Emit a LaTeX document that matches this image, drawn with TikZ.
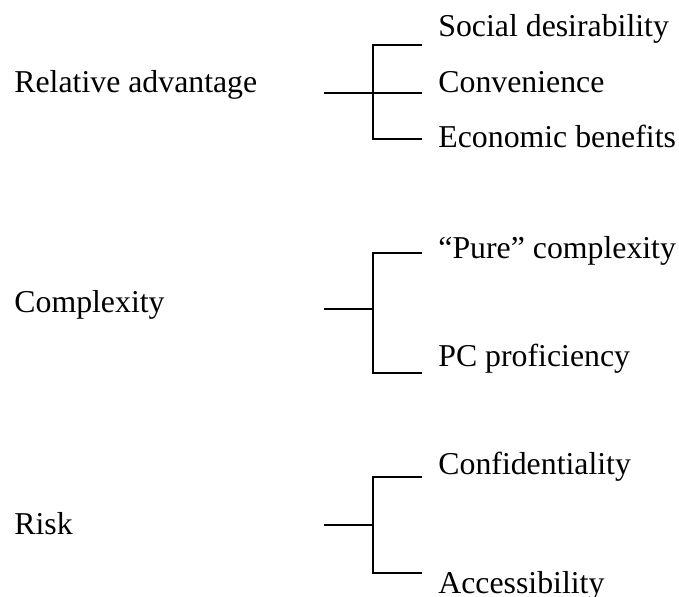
\documentclass[tikz,border=0pt]{standalone}
\usepackage{fontspec}
\setmainfont{Liberation Serif}
\begin{document}
\begin{tikzpicture}[x=0.5pt,y=-0.5pt,
  lbl/.style={anchor=base west,inner sep=0pt,font=\fontsize{15.9}{19}\selectfont},
  conn/.style={line width=1.2pt,line cap=rect}]
\useasboundingbox (0,0) rectangle (679,597);

% factor labels
\node[lbl] (rel) at (14,93) {Relative advantage};
\node[lbl] (cpx) at (14,313) {Complexity};
\node[lbl] (risk) at (14,535) {Risk};

% sub-factor labels
\node[lbl] (soc) at (438,37) {Social desirability};
\node[lbl] (conv) at (438,93) {Convenience};
\node[lbl] (econ) at (438,148) {Economic benefits};
\node[lbl] (pure) at (438,259) {``Pure'' complexity};
\node[lbl] (pc) at (438,367) {PC proficiency};
\node[lbl] (conf) at (438,475) {Confidentiality};
\node[lbl] (acc) at (438,593) {Accessibility};

% bracket points
\coordinate (s1) at (325,93);  \coordinate (j1) at (373,93);
\coordinate (t1a) at (373,45); \coordinate (e1a) at (421,45);
\coordinate (e1b) at (421,93);
\coordinate (t1c) at (373,139); \coordinate (e1c) at (421,139);

\coordinate (s2) at (325,309); \coordinate (j2) at (373,309);
\coordinate (t2a) at (373,253); \coordinate (e2a) at (421,253);
\coordinate (t2b) at (373,373); \coordinate (e2b) at (421,373);

\coordinate (s3) at (325,525); \coordinate (j3) at (373,525);
\coordinate (t3a) at (373,477); \coordinate (e3a) at (421,477);
\coordinate (t3b) at (373,573); \coordinate (e3b) at (421,573);

% brackets
\draw[conn] (s1) -- (j1) -- (e1b);
\draw[conn] (e1a) -- (t1a) -- (t1c) -- (e1c);

\draw[conn] (s2) -- (j2);
\draw[conn] (e2a) -- (t2a) -- (t2b) -- (e2b);

\draw[conn] (s3) -- (j3);
\draw[conn] (e3a) -- (t3a) -- (t3b) -- (e3b);
\end{tikzpicture}
\end{document}
